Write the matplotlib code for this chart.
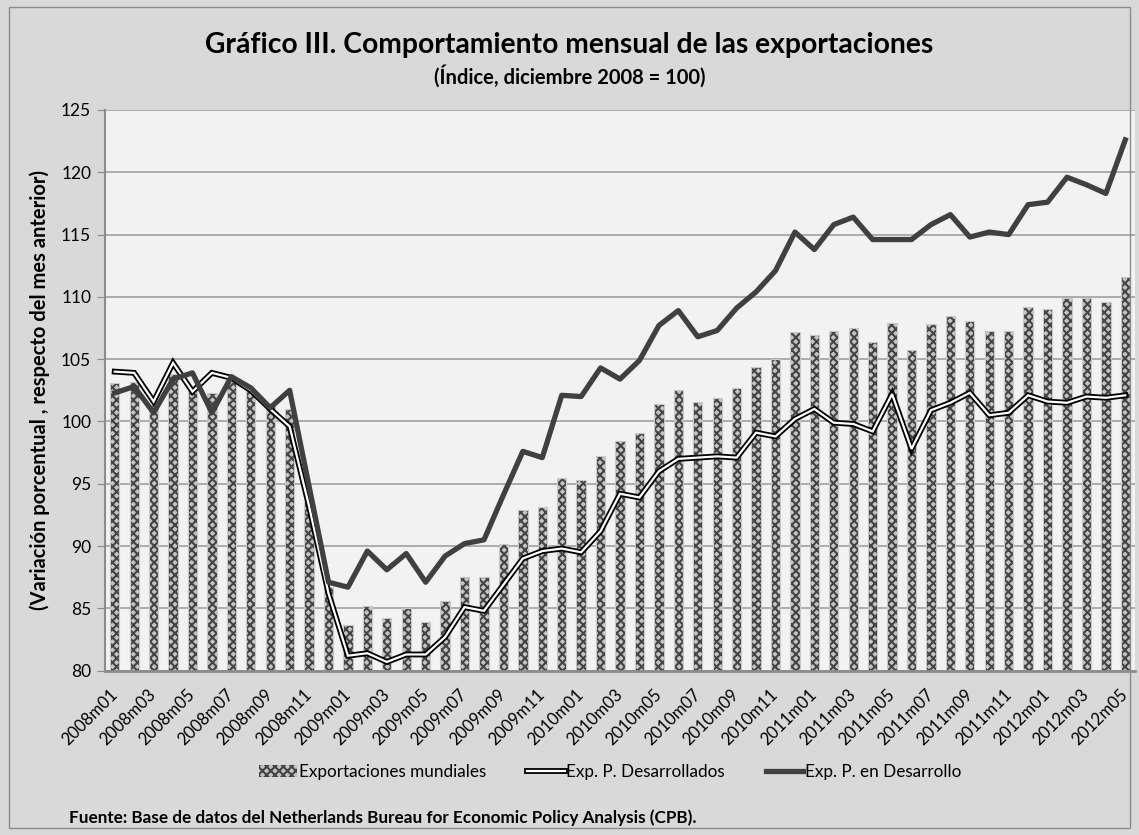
import numpy as np
import matplotlib.pyplot as plt
from matplotlib.patches import Rectangle, Patch
from matplotlib.lines import Line2D
import matplotlib.patheffects as pe

plt.rcParams['font.family'] = ['Lato', 'DejaVu Sans']
plt.rcParams['hatch.linewidth'] = 1.5

# monthly index 2008m01 .. 2012m05
months = [f'{y}m{m:02d}' for y in range(2008, 2013) for m in range(1, 13)][:53]

exp_mundiales = [103.1, 103.2, 101.3, 103.8, 102.8, 102.3, 103.2, 102.5, 101.3, 101.0,
                 93.5, 86.7, 83.7, 85.2, 84.2, 85.0, 83.9, 85.6, 87.5, 87.5,
                 90.2, 92.9, 93.1, 95.5, 95.3, 97.2, 98.4, 99.1, 101.4, 102.5,
                 101.6, 101.9, 102.7, 104.4, 105.0, 107.2, 106.9, 107.3, 107.5, 106.4,
                 107.9, 105.7, 107.8, 108.5, 108.1, 107.3, 107.3, 109.2, 109.0, 109.9,
                 109.9, 109.6, 111.6]

exp_desarrollados = [104.0, 103.9, 101.6, 104.7, 102.4, 103.9, 103.5, 102.5, 101.0, 99.6,
                     93.2, 86.2, 81.2, 81.4, 80.7, 81.3, 81.3, 82.7, 85.1, 84.8,
                     86.9, 89.0, 89.6, 89.8, 89.5, 91.2, 94.2, 93.9, 96.0, 97.0,
                     97.1, 97.2, 97.1, 99.1, 98.8, 100.2, 101.0, 99.9, 99.8, 99.2,
                     102.2, 97.8, 100.9, 101.5, 102.3, 100.5, 100.7, 102.1, 101.6, 101.5,
                     102.0, 101.9, 102.1]

exp_desarrollo = [102.3, 102.8, 100.7, 103.4, 103.9, 100.7, 103.6, 102.7, 101.1, 102.5,
                  94.8, 87.1, 86.7, 89.6, 88.1, 89.4, 87.1, 89.2, 90.2, 90.5,
                  94.1, 97.6, 97.1, 102.1, 102.0, 104.3, 103.4, 104.9, 107.7, 108.9,
                  106.8, 107.3, 109.1, 110.4, 112.1, 115.2, 113.8, 115.8, 116.4, 114.6,
                  114.6, 114.6, 115.8, 116.6, 114.8, 115.2, 115.0, 117.4, 117.6, 119.6,
                  119.0, 118.3, 122.6]

x = np.arange(len(months))

fig = plt.figure(figsize=(11.39, 8.35), dpi=100, facecolor='#d9d9d9')
ax = fig.add_axes([0.0922, 0.1968, 0.9043, 0.6715])
ax.set_facecolor('#f2f2f2')

# bars: hatched fill, then a light outline
ax.bar(x, [v - 80 for v in exp_mundiales], bottom=80, width=0.48,
       color='#c4c4c4', edgecolor='#444444', hatch='xxxx', linewidth=0, zorder=2)
ax.bar(x, [v - 80 for v in exp_mundiales], bottom=80, width=0.48,
       fill=False, edgecolor='#c8c8c8', linewidth=0.8, zorder=2)

# double line (white core with black outline)
ax.plot(x, exp_desarrollados, color='black', lw=4.2, zorder=3, solid_joinstyle='miter')
ax.plot(x, exp_desarrollados, color='white', lw=1.6, zorder=4, solid_joinstyle='miter')
ax.plot(x, exp_desarrollo, color='#404040', lw=3.8, zorder=5, solid_joinstyle='round')

ax.set_xlim(-0.5, len(months) - 0.5)
ax.set_ylim(80, 125)
ax.set_yticks(range(80, 126, 5))
ax.tick_params(axis='y', labelsize=12.5, length=6, color='#8c8c8c', pad=4)
ax.set_xticks(x[::2])
ax.set_xticklabels(months[::2], rotation=45, ha='right', rotation_mode='anchor',
                   va='center', fontsize=12)
ax.tick_params(axis='x', length=0, pad=15)
ax.yaxis.grid(True, color='#a0a0a0', lw=1.2, zorder=0)
ax.set_axisbelow(True)
for s in ['top', 'right']:
    ax.spines[s].set_visible(False)
ax.spines['left'].set_color('#8c8c8c')
ax.spines['left'].set_linewidth(1.5)
ax.spines['bottom'].set_color('#8c8c8c')
ax.spines['bottom'].set_linewidth(2)

ax.set_ylabel('(Variación porcentual , respecto del mes anterior)', fontsize=14.5,
              fontweight='bold', labelpad=8)

fig.text(0.5, 0.946, 'Gráfico III. Comportamiento mensual de las exportaciones',
         ha='center', va='center', fontsize=20.3, fontweight='bold')
fig.text(0.5, 0.909, '(Índice, diciembre 2008 = 100)',
         ha='center', va='center', fontsize=14.5, fontweight='bold')

# legend handles
h1 = Patch(facecolor='#c4c4c4', edgecolor='#444444', hatch='xxxx', linewidth=0)
h2 = Line2D([0], [0], color='white', lw=1.6,
            path_effects=[pe.Stroke(linewidth=4.2, foreground='black'), pe.Normal()])
h3 = Line2D([0], [0], color='#404040', lw=3.8)
fig.legend([h1, h2, h3],
           ['Exportaciones mundiales', 'Exp. P. Desarrollados', 'Exp. P. en Desarrollo'],
           loc='center', bbox_to_anchor=(0.536, 0.076), ncol=3, frameon=False,
           fontsize=12.3, handlelength=2.2, handletextpad=0.1, columnspacing=2.4)

fig.text(0.061, 0.021, 'Fuente: Base de datos del Netherlands Bureau for Economic Policy Analysis (CPB).',
         ha='left', va='center', fontsize=12.3, fontweight='bold')

fig.patches.append(Rectangle((0.008, 0.008), 0.984, 0.984, transform=fig.transFigure,
                             fill=False, edgecolor='#8c8c8c', lw=1))

fig.savefig('out.png', dpi=100, facecolor=fig.get_facecolor())
